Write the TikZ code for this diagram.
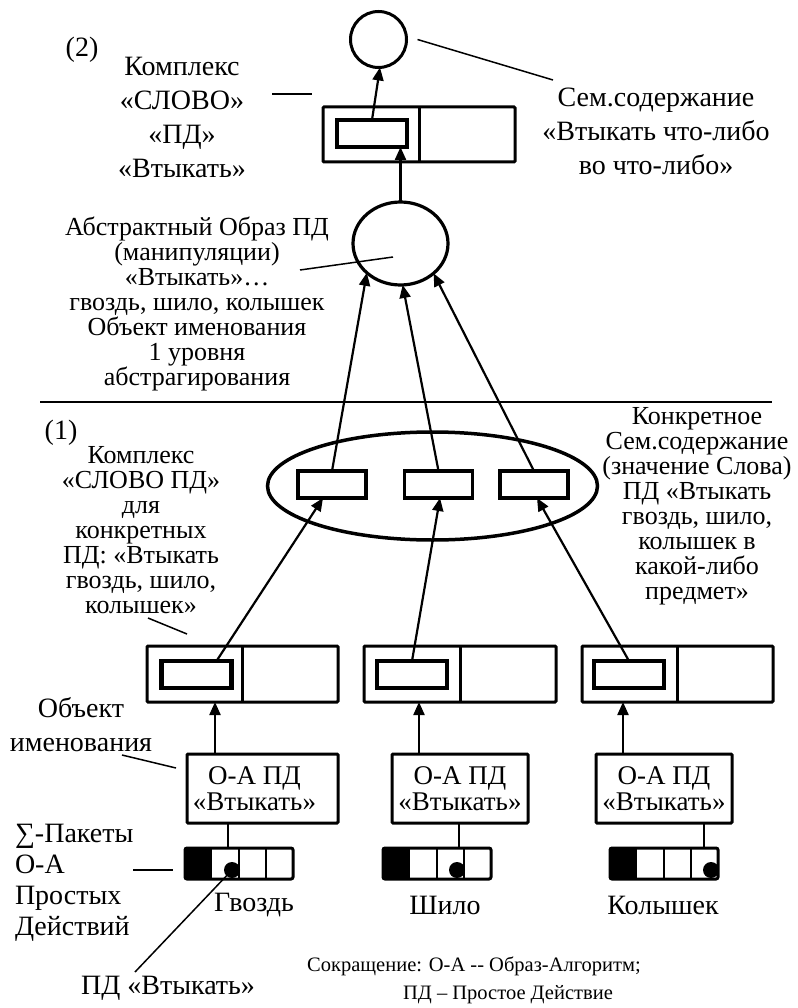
\documentclass[tikz,border=0pt]{standalone}
\usepackage{fontspec}
\setmainfont{Liberation Serif}
\usetikzlibrary{calc,arrows.meta,shapes.geometric}
\begin{document}
\begin{tikzpicture}[x=1pt,y=-1pt,
  every node/.style={inner sep=0pt, outer sep=0pt},
  bigtxt/.style={font=\fontsize{28}{34}\selectfont, align=center},
  midtxt/.style={font=\fontsize{26}{25}\selectfont, align=center},
  foottxt/.style={font=\fontsize{20.5}{29}\selectfont},
  boxA/.style={draw, line width=3pt, rectangle, rounded corners=1pt},
  inbox/.style={draw, line width=4.5pt, rectangle, minimum width=70pt, minimum height=27pt},
  midbox/.style={draw, line width=3.5pt, rectangle, minimum width=68pt, minimum height=27pt},
  cbox/.style={boxA, minimum width=191pt, minimum height=56pt},
  oabox/.style={boxA, minimum width=136pt, minimum height=69pt, font=\fontsize{27}{26.5}\selectfont, align=center},
  pkt/.style={rectangle, minimum width=108pt, minimum height=31pt},
  arr/.style={line width=2.2pt, -{Triangle[length=13pt,width=11pt]}},
  leader/.style={line width=1.5pt},
  thinline/.style={line width=1.2pt}]
\useasboundingbox (0,0) rectangle (797,1008);

% ---------- level (2) ----------
\node[draw, circle, line width=3pt, minimum size=56pt] (c2) at (378.5,39.5) {};
\node[cbox, minimum width=192pt, minimum height=55pt] (tb) at (419,134.5) {};
\draw[line width=3pt] (tb.north) -- (tb.south);
\node[inbox] (tin) at (372,133.5) {};
\node[draw, ellipse, line width=3.2pt, minimum width=95pt, minimum height=83pt] (abs) at (400.5,243.5) {};

\draw[arr] (tin.north) -- (c2.273);
\draw[arr] (abs.north) -- (abs.north |- tin.south);

\node[bigtxt] (n2) at (82,50) {(2)};
\node[bigtxt] (k2) at (182,117) {Комплекс\\«СЛОВО»\\«ПД»\\«Втыкать»};
\coordinate (k2a) at (272,94);
\coordinate (k2b) at (312,94);
\draw[leader] (k2a) -- (k2b);

\node[bigtxt] (sem) at (656,131) {Сем.содержание\\«Втыкать что-либо\\во что-либо»};
\coordinate (semend) at (553,80);
\draw[leader] ($(c2.east)+(11,0)$) -- (semend);

\node[midtxt] (abst) at (197,304) {Абстрактный Образ ПД\\(манипуляции)\\«Втыкать»…\\гвоздь, шило, колышек\\Объект именования\\1 уровня\\абстрагирования};
\coordinate (absa) at (300,270);
\coordinate (absb) at (393,257);
\draw[leader] (absa) -- (absb);

% separator
\coordinate (sepL) at (40,402);
\coordinate (sepR) at (772,402);
\draw[leader] (sepL) -- (sepR);

% ---------- level (1) ----------
\node[draw, ellipse, line width=3.5pt, minimum width=330pt, minimum height=108pt] (bigE) at (432.5,486) {};
\node[midbox] (mb1) at (332,484.5) {};
\node[midbox] (mb2) at (438.5,484.5) {};
\node[midbox] (mb3) at (534,484.5) {};

\draw[arr] (mb1.north) -- (abs.221);
\draw[arr] (mb2.north) -- (abs.273);
\draw[arr] (mb3.north) -- (abs.318);

\node[bigtxt] (n1) at (61,433) {(1)};
\node[midtxt] (k1) at (141,530) {Комплекс\\«СЛОВО ПД»\\для\\конкретных\\ПД: «Втыкать\\гвоздь, шило,\\колышек»};
\coordinate (k1a) at (148,618);
\coordinate (k1b) at (187,634);
\draw[leader] (k1a) -- (k1b);

\node[midtxt] (konk) at (697,506) {Конкретное\\Сем.содержание\\(значение Слова)\\ПД «Втыкать\\гвоздь, шило,\\колышек в\\какой-либо\\предмет»};

% complex boxes
\node[cbox] (cb1) at (242.5,674) {};
\node[cbox, minimum width=192pt] (cb2) at (460,674) {};
\node[cbox] (cb3) at (677.5,674) {};
\foreach \c in {cb1,cb2,cb3} \draw[line width=3pt] (\c.north) -- (\c.south);
\node[inbox] (ib1) at (196.5,674.5) {};
\node[inbox] (ib2) at (412,674.5) {};
\node[inbox] (ib3) at (629,674.5) {};

\draw[arr] ($(ib1.north)+(20,0)$) -- ($(mb1.south)+(-9,0)$);
\draw[arr] (ib2.north) -- ($(mb2.south)+(1.5,0)$);
\draw[arr] (ib3.north) -- ($(mb3.south)+(3,0)$);

% O-A boxes
\node[oabox, minimum width=151pt] (oa1) at (262.5,788.5) {\hspace*{-16pt}О-А ПД\\\hspace*{-16pt}«Втыкать»};
\node[oabox] (oa2) at (460,788.5) {О-А ПД\\«Втыкать»};
\node[oabox] (oa3) at (664,788.5) {О-А ПД\\«Втыкать»};

\draw[arr] ($(oa1.north west)+(28,0)$) coordinate (u1) -- (u1 |- cb1.south);
\draw[arr] ($(oa2.north west)+(27,0)$) coordinate (u2) -- (u2 |- cb2.south);
\draw[arr] ($(oa3.north west)+(27,0)$) coordinate (u3) -- (u3 |- cb3.south);

\node[bigtxt] (obj) at (81,725) {Объект\\именования};
\coordinate (obja) at (122,755);
\coordinate (objb) at (176,768);
\draw[leader] (obja) -- (objb);

% packets
\node[pkt] (pk1) at (239,863.5) {};
\node[pkt] (pk2) at (437,863.5) {};
\node[pkt] (pk3) at (664,863.5) {};

\draw[thinline] ($(oa1.south west)+(41,0)$) coordinate (v1) -- (v1 |- pk1.north);
\draw[thinline] ($(oa2.south west)+(67,0)$) coordinate (v2) -- (v2 |- pk2.north);
\draw[thinline] ($(oa3.south west)+(108,0)$) coordinate (v3) -- (v3 |- pk3.north);

\coordinate (dot1) at ($(pk1.south west)+(47,-9)$);
\coordinate (pdend) at (135,972);
\draw[leader] (dot1) -- (pdend);

\foreach \p/\d in {pk1/47,pk2/74,pk3/101}{
  \fill (\p.north west) rectangle ($(\p.south west)+(27,0)$);
  \foreach \i in {54,81}
    \draw[line width=1.5pt] ($(\p.north west)+(\i,0)$) -- ($(\p.south west)+(\i,0)$);
  \draw[line width=3pt, rounded corners=2pt] (\p.north west) rectangle (\p.south east);
  \fill ($(\p.south west)+(\d,-9)$) circle (8pt);
}

\node[bigtxt, align=left, font=\fontsize{28}{31}\selectfont, anchor=west] (sig) at (15,883) {∑-Пакеты\\О-А\\Простых\\Действий};
\coordinate (siga) at (133,870);
\coordinate (sigb) at (173,870);
\draw[leader] (siga) -- (sigb);

\node[bigtxt] (g1) at (254,905) {Гвоздь};
\node[bigtxt] (g2) at (445,905) {Шило};
\node[bigtxt] (g3) at (663,905) {Колышек};

\node[bigtxt] (pdl) at (168,988) {ПД «Втыкать»};

\node[foottxt] (f1) at (474,966) {Сокращение: О-А -{}- Образ-Алгоритм;};
\node[foottxt] (f2) at (508,995) {ПД – Простое Действие};
\end{tikzpicture}
\end{document}
